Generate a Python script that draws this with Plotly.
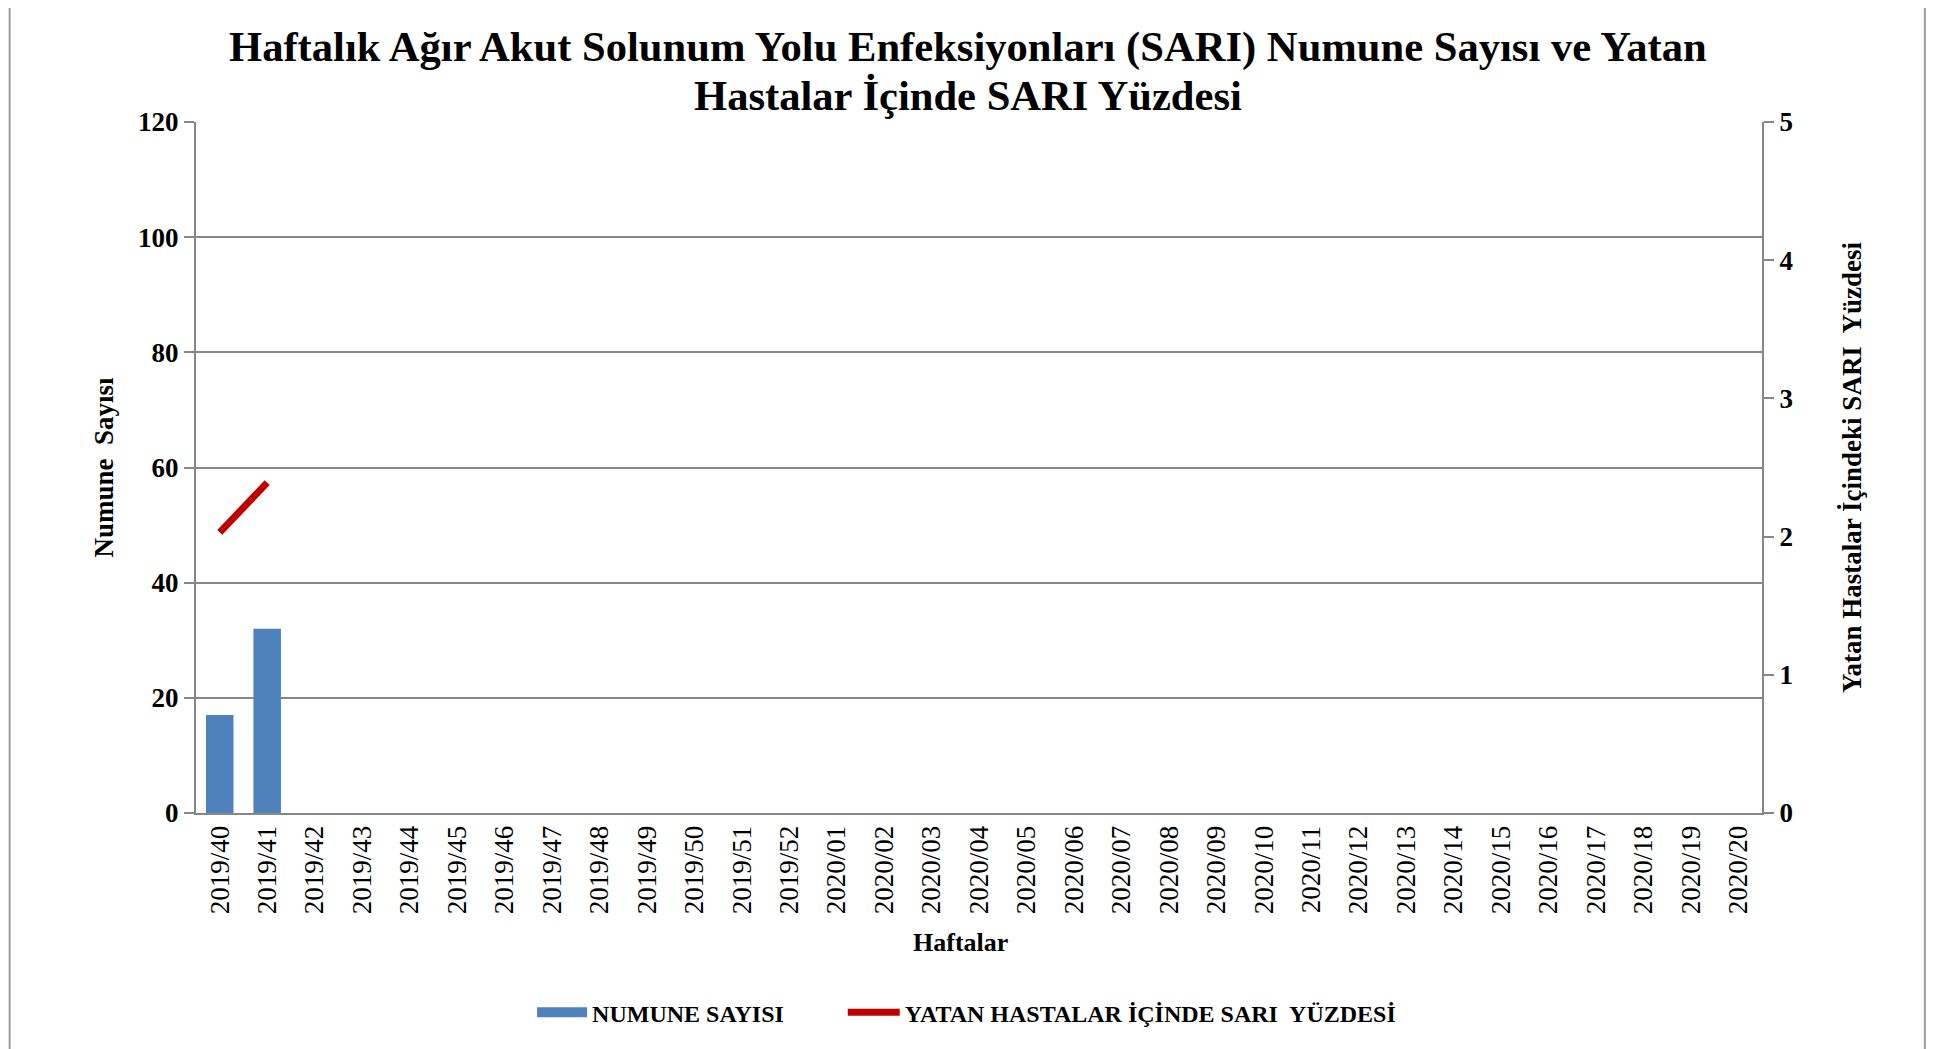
import plotly.graph_objects as go

weeks = [f"2019/{w}" for w in range(40, 53)] + [f"2020/{w:02d}" for w in range(1, 21)]
numune = [17, 32] + [None] * 31
sari_pct = [2.03, 2.39] + [None] * 31

title_line1 = "Haftalık Ağır Akut Solunum Yolu Enfeksiyonları (SARI) Numune Sayısı ve Yatan"
title_line2 = "Hastalar İçinde SARI Yüzdesi"
x_title = "Haftalar"

FONT = "Liberation Serif, Times New Roman, serif"
BLUE = "#4F81BD"
RED = "#C00000"

fig = go.Figure()
fig.add_trace(go.Bar(
    x=weeks, y=numune, name="NUMUNE SAYISI",
    marker=dict(color=BLUE, line=dict(width=0)),
    yaxis="y", showlegend=False,
))
# legend-only entry drawn as a wide blue block like the original
fig.add_trace(go.Scatter(
    x=[None], y=[None], name="NUMUNE SAYISI", mode="lines",
    line=dict(color=BLUE, width=12), yaxis="y", legend="legend",
))
fig.add_trace(go.Scatter(
    x=weeks, y=sari_pct, name="YATAN HASTALAR İÇİNDE SARI  YÜZDESİ",
    mode="lines", line=dict(color=RED, width=7),
    yaxis="y2", legend="legend2",
))

legend_font = dict(family=FONT, size=24, color="black", weight="bold")

fig.update_layout(
    width=1944, height=1049,
    margin=dict(l=188, r=190, t=114, b=244),
    paper_bgcolor="white", plot_bgcolor="white",
    bargap=0.42,
    xaxis=dict(
        type="category", tickangle=-90,
        tickfont=dict(family=FONT, size=27, color="black"),
        showline=True, linecolor="#878787", linewidth=2,
        showgrid=False, ticks="", ticklen=0,
    ),
    yaxis=dict(
        range=[0, 120], dtick=20,
        tickfont=dict(family=FONT, size=27, color="black", weight="bold"),
        showline=True, linecolor="#878787", linewidth=2,
        showgrid=True, gridcolor="#878787", gridwidth=1.5,
        ticks="outside", ticklen=10, tickcolor="#878787", tickwidth=2,
        zeroline=False,
        title=dict(text="<b>Numune  Sayısı</b>", font=dict(family=FONT, size=27, color="black"), standoff=17),
    ),
    yaxis2=dict(
        range=[0, 5], dtick=1, overlaying="y", side="right",
        tickfont=dict(family=FONT, size=27, color="black", weight="bold"),
        showline=True, linecolor="#878787", linewidth=2,
        showgrid=False, zeroline=False,
        ticks="outside", ticklen=10, tickcolor="#878787", tickwidth=2,
        title=dict(text="<b>Yatan Hastalar İçindeki SARI  Yüzdesi</b>", font=dict(family=FONT, size=27, color="black"), standoff=50),
    ),
    legend=dict(
        orientation="h", x=0.2146, xanchor="left", y=-0.289, yanchor="middle",
        font=legend_font, itemwidth=50, bgcolor="rgba(0,0,0,0)",
    ),
    legend2=dict(
        orientation="h", x=0.413, xanchor="left", y=-0.289, yanchor="middle",
        font=legend_font, itemwidth=52, bgcolor="rgba(0,0,0,0)",
    ),
    showlegend=True,
)

for txt, yy in [(title_line1, 1.108), (title_line2, 1.038)]:
    fig.add_annotation(
        text=f"<b>{txt}</b>", xref="paper", yref="paper", x=0.493, y=yy,
        xanchor="center", yanchor="middle", showarrow=False,
        font=dict(family=FONT, size=42.6, color="black"),
    )

fig.add_annotation(
    text=f"<b>{x_title}</b>", xref="paper", yref="paper", x=0.488, y=-0.187,
    xanchor="center", yanchor="middle", showarrow=False,
    font=dict(family=FONT, size=26, color="black"),
)

fig.add_shape(type="rect", xref="paper", yref="paper",
              x0=-0.119, x1=1.104, y0=-0.40, y1=1.173,
              line=dict(color="#9A9A9A", width=2), layer="below")

fig.write_html("out.html")
